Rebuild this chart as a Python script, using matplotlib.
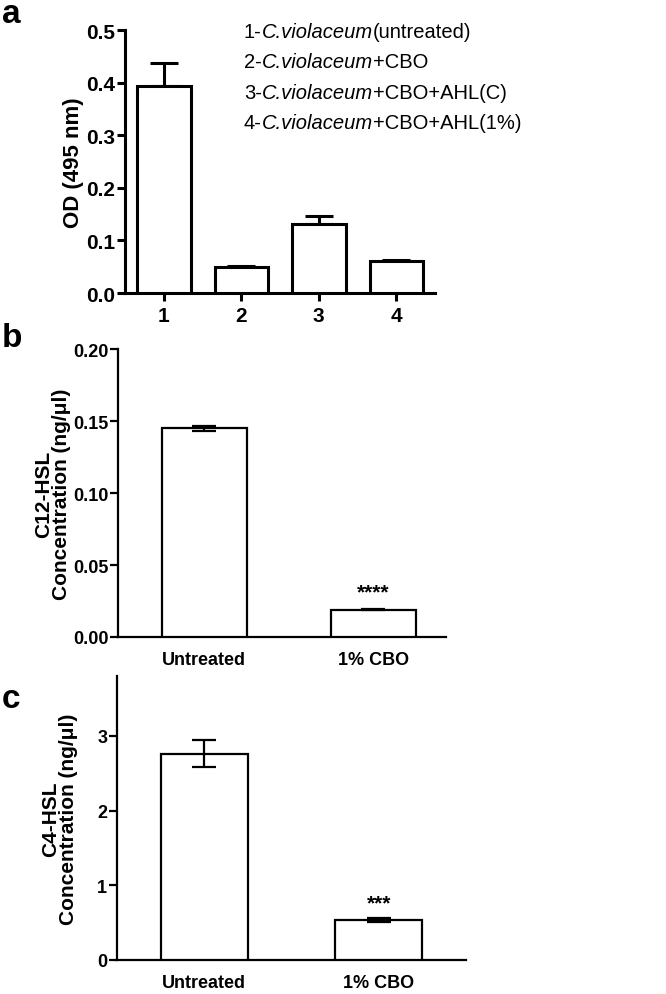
import matplotlib.pyplot as plt

plt.rcParams["font.family"] = ["Liberation Sans", "DejaVu Sans"]

# panel a
a_pos = [1, 2, 3, 4]
a_vals = [0.393, 0.049, 0.132, 0.060]
a_err = [0.044, 0.003, 0.015, 0.003]
a_ticks = [0.0, 0.1, 0.2, 0.3, 0.4, 0.5]
a_legend = [("1-", "C.violaceum", "(untreated)"),
            ("2-", "C.violaceum", "+CBO"),
            ("3-", "C.violaceum", "+CBO+AHL(C)"),
            ("4-", "C.violaceum", "+CBO+AHL(1%)")]

# panel b
b_labels = ["Untreated", "1% CBO"]
b_vals = [0.145, 0.019]
b_err = [0.0017, 0.0004]
b_ticks = [0.00, 0.05, 0.10, 0.15, 0.20]
b_stars = ["", "****"]

# panel c
c_labels = ["Untreated", "1% CBO"]
c_vals = [2.76, 0.535]
c_err = [0.18, 0.027]
c_ticks = [0, 1, 2, 3]
c_stars = ["", "***"]

fig = plt.figure(figsize=(6.66, 9.95), dpi=100)


def style(ax, lw, fs):
    for s in ["top", "right"]:
        ax.spines[s].set_visible(False)
    for s in ["left", "bottom"]:
        ax.spines[s].set_linewidth(lw)
    ax.tick_params(width=lw, length=6, labelsize=fs)
    ax.tick_params(axis="y", pad=1)
    for t in ax.get_yticklabels() + ax.get_xticklabels():
        t.set_fontweight("bold")


def place_ylabel(ax, x):
    ax.yaxis.set_label_coords(x, 0.5)
    ax.yaxis.label.set_va("center")


# ---- a
ax = fig.add_axes([0.1877, 0.7045, 0.4655, 0.2643])
ax.bar(a_pos, a_vals, width=0.69, color="white", edgecolor="black", linewidth=2.2, zorder=3)
ax.errorbar(a_pos, a_vals, yerr=[[0] * 4, a_err], fmt="none", ecolor="black",
            elinewidth=2.2, capsize=10, capthick=2.2, zorder=2)
ax.set_xlim(0.5, 4.5)
ax.set_ylim(0, 0.5)
ax.set_yticks(a_ticks)
ax.set_yticklabels([f"{v:.1f}" for v in a_ticks])
ax.set_xticks(a_pos)
ax.set_xticklabels([str(p) for p in a_pos])
ax.set_ylabel("OD (495 nm)", fontsize=16, fontweight="bold")
place_ylabel(ax, -0.165)
style(ax, 2.2, 15)

for i, (pre, it, post) in enumerate(a_legend):
    t1 = fig.text(0.366, 0.962 - i * 0.0305, pre, fontsize=14.5, va="baseline")
    t2 = ax.annotate(it, xy=(1, 0), xycoords=t1, fontsize=14.5, style="italic",
                     va="bottom", annotation_clip=False)
    ax.annotate(post, xy=(1, 0), xycoords=t2, fontsize=14.5,
                va="bottom", annotation_clip=False)
fig.text(0.003, 0.977, "a", fontsize=24, fontweight="bold")

# ---- b
ax = fig.add_axes([0.1772, 0.3588, 0.4925, 0.2894])
ax.bar([0, 1], b_vals, width=0.5, color="white", edgecolor="black", linewidth=1.6, zorder=3)
ax.errorbar([0, 1], b_vals, yerr=b_err, fmt="none", ecolor="black",
            elinewidth=1.6, capsize=8.5, capthick=1.6, zorder=4)
ax.set_xlim(-0.51, 1.43)
ax.set_ylim(0, 0.2)
ax.set_yticks(b_ticks)
ax.set_yticklabels([f"{v:.2f}" for v in b_ticks])
ax.set_xticks([0, 1])
ax.set_xticklabels(b_labels)
ax.set_ylabel("C12-HSL\nConcentration (ng/\u03bcl)", fontsize=15, fontweight="bold",
              linespacing=0.9)
place_ylabel(ax, -0.2)
style(ax, 1.6, 13)
ax.tick_params(axis="x", length=0, pad=10)
for x, v, e, s in zip([0, 1], b_vals, b_err, b_stars):
    if s:
        ax.text(x, v + e + 0.005, s, ha="center", va="bottom", fontsize=15, fontweight="bold")
fig.text(0.003, 0.6513, "b", fontsize=24, fontweight="bold")

# ---- c
ax = fig.add_axes([0.1757, 0.0342, 0.524, 0.2854])
ax.bar([0, 1], c_vals, width=0.5, color="white", edgecolor="black", linewidth=1.6, zorder=3)
ax.errorbar([0, 1], c_vals, yerr=c_err, fmt="none", ecolor="black",
            elinewidth=1.6, capsize=8.3, capthick=1.6, zorder=4)
ax.set_xlim(-0.5, 1.5)
ax.set_ylim(0, 3.8)
ax.set_yticks(c_ticks)
ax.set_xticks([0, 1])
ax.set_xticklabels(c_labels)
ax.set_ylabel("C4-HSL\nConcentration (ng/\u03bcl)", fontsize=15, fontweight="bold",
              linespacing=0.9)
place_ylabel(ax, -0.165)
style(ax, 1.6, 13)
ax.tick_params(axis="x", length=0, pad=10)
for x, v, e, s in zip([0, 1], c_vals, c_err, c_stars):
    if s:
        ax.text(x, v + e + 0.08, s, ha="center", va="bottom", fontsize=15, fontweight="bold")
fig.text(0.003, 0.2884, "c", fontsize=24, fontweight="bold")

fig.savefig("out.png", dpi=100)
